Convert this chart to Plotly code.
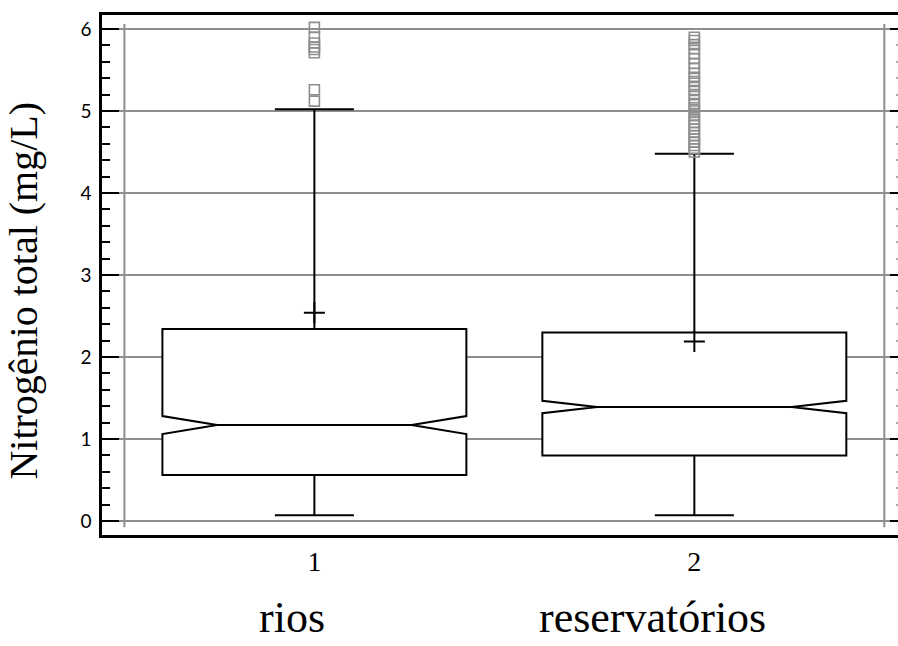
import plotly.graph_objects as go

# Summary statistics of total nitrogen (mg/L) per water-body type
groups = ["rios", "reservatórios"]
positions = [1, 2]
lower_fence = [0.07, 0.07]
q1 = [0.56, 0.80]
median = [1.17, 1.39]
q3 = [2.34, 2.30]
upper_fence = [5.02, 4.48]
mean = [2.54, 2.19]
notch_span = [0.11, 0.075]

# Points beyond the whiskers
outliers_rios = [6.02, 5.90, 5.83, 5.78, 5.75, 5.71, 5.26, 5.12]
outliers_reservatorios = [5.90, 5.86, 5.81, 5.76, 5.70, 5.64, 5.58, 5.52, 5.46,
                          5.41, 5.36, 5.30, 5.25, 5.20, 5.14, 5.09, 5.04, 5.00,
                          4.95, 4.90, 4.86, 4.82, 4.78, 4.74, 4.70, 4.66, 4.62,
                          4.58, 4.54, 4.50]

y_ticks = [0, 1, 2, 3, 4, 5, 6]
x_ticks = [1, 2]
x_tick_text = ["1", "2"]

GRID = "#8e8e8e"
SERIF = "Liberation Serif, Times New Roman, serif"

fig = go.Figure()

fig.add_trace(go.Box(
    x=positions,
    q1=q1, median=median, q3=q3,
    lowerfence=lower_fence, upperfence=upper_fence,
    notched=True, notchspan=notch_span, notchwidth=0.18,
    width=0.8, whiskerwidth=0.26,
    fillcolor="white",
    line=dict(color="black", width=2),
    boxpoints=False,
    showlegend=False,
    hoverinfo="skip",
))

# Mean markers
fig.add_trace(go.Scatter(
    x=positions, y=mean, mode="markers",
    marker=dict(symbol="cross-thin", size=15, line=dict(color="black", width=2)),
    showlegend=False, hoverinfo="skip",
))

# Outliers
for pos, vals in zip(positions, [outliers_rios, outliers_reservatorios]):
    fig.add_trace(go.Scatter(
        x=[pos] * len(vals), y=vals, mode="markers",
        marker=dict(symbol="square-open", size=10, color=GRID,
                    line=dict(color=GRID, width=1.6)),
        showlegend=False, hoverinfo="skip",
    ))

# Vertical grid lines at the category boundaries
for xv in [0.5, 2.5]:
    fig.add_shape(type="line", xref="x", yref="y", x0=xv, x1=xv,
                  y0=-0.075, y1=6.06, layer="below",
                  line=dict(color=GRID, width=2))

# Dummy trace to activate the right-hand mirrored axis
fig.add_trace(go.Scatter(x=[1], y=[0], yaxis="y2", mode="markers",
                         marker=dict(opacity=0), showlegend=False, hoverinfo="skip"))

yrange = [-0.171, 6.171]

fig.update_layout(
    width=898, height=646,
    margin=dict(l=102, r=0, t=15, b=111),
    paper_bgcolor="white", plot_bgcolor="white",
    xaxis=dict(
        range=[0.441, 2.536],
        tickvals=x_ticks, ticktext=x_tick_text,
        showgrid=False, zeroline=False,
        showline=True, mirror=True, linecolor="black", linewidth=2.5,
        ticks="", tickfont=dict(family=SERIF, size=28, color="black"),
    ),
    yaxis=dict(
        range=yrange,
        tickvals=y_ticks,
        showgrid=True, gridcolor=GRID, gridwidth=2,
        zeroline=False,
        showline=True, linecolor="black", linewidth=2.5,
        ticks="inside", ticklen=17, tickwidth=2, tickcolor="black",
        minor=dict(dtick=0.2, ticks="inside", ticklen=8, tickwidth=2,
                   tickcolor="black", showgrid=False),
        tickfont=dict(family="Lato, sans-serif", size=19, color="black"),
        ticklabelstandoff=4,
    ),
    yaxis2=dict(
        range=yrange, overlaying="y", side="right",
        tickvals=y_ticks, showticklabels=False,
        showgrid=False, zeroline=False, showline=False,
        ticks="inside", ticklen=8, tickwidth=2, tickcolor="black",
        minor=dict(dtick=0.2, ticks="inside", ticklen=2, tickwidth=2,
                   tickcolor="#aaaaaa", showgrid=False),
    ),
    annotations=[
        dict(text="Nitrogênio total (mg/L)", textangle=-90,
             xref="paper", yref="paper", x=-0.098, y=0.470,
             xanchor="center", yanchor="middle", showarrow=False,
             font=dict(family=SERIF, size=40, color="black")),
        dict(text=groups[0], xref="paper", yref="paper",
             x=(292 - 102) / 796, y=-0.158,
             xanchor="center", yanchor="middle", showarrow=False,
             font=dict(family=SERIF, size=44, color="black")),
        dict(text=groups[1], xref="paper", yref="paper",
             x=(652 - 102) / 796, y=-0.158,
             xanchor="center", yanchor="middle", showarrow=False,
             font=dict(family=SERIF, size=44, color="black")),
    ],
)

fig.write_html("out.html")
